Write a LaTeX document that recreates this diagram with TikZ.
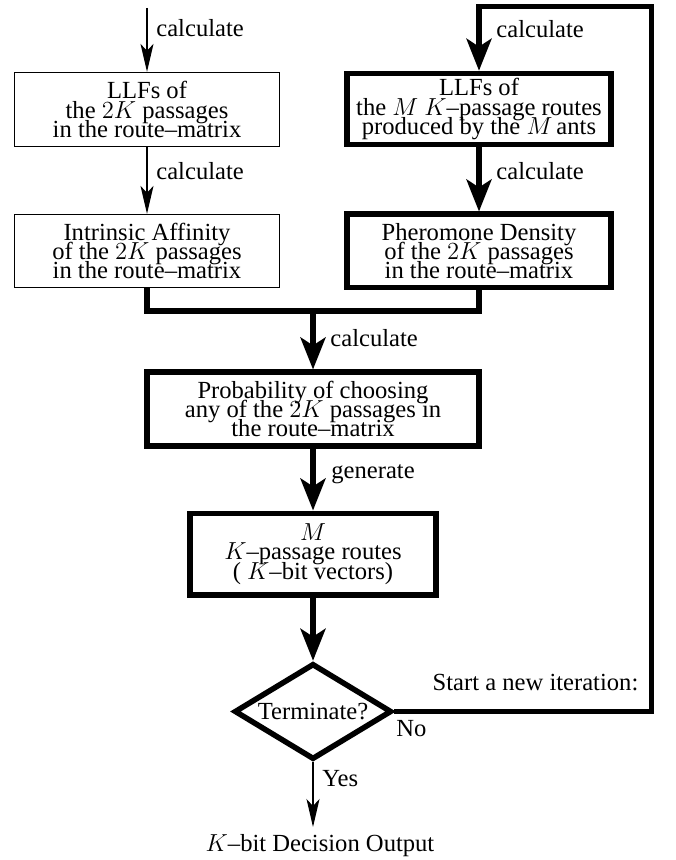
\documentclass[tikz,border=0pt]{standalone}
\usepackage{fix-cm}
\usepackage[no-math]{fontspec}
\setmainfont{Liberation Serif}
\usetikzlibrary{arrows.meta,shapes.geometric}
\tikzset{
  txt/.style={font=\fontsize{12.3}{9.7}\selectfont},
  thinbox/.style={draw,line width=0.65pt,align=center,inner sep=0pt,txt,minimum width=132.5pt},
  thickbox/.style={draw,line width=2.75pt,align=center,inner sep=0pt,txt},
  thinarrow/.style={line width=0.65pt,-{Stealth[length=14pt,width=6.5pt,inset=3.5pt]}},
  thickline/.style={line width=2.75pt},
  thickarrow/.style={line width=2.75pt,-{Stealth[length=16pt,width=12.5pt,inset=4pt]}},
  lbl/.style={txt,inner sep=0pt,anchor=base west}
}
\begin{document}
\lineskiplimit=-20pt\relax
\begin{tikzpicture}[x=0.5pt,y=-0.5pt]
\useasboundingbox (0,0) rectangle (675,860);
% boxes
\node[thinbox,minimum height=37pt] (b1) at (147,109.5) {LLFs of\\the $2K$ passages\\in the route–matrix};
\node[thinbox,minimum height=36.5pt] (b2) at (147,251) {Intrinsic Affinity\\of the $2K$ passages\\in the route–matrix};
\node[thickbox,minimum width=132pt,minimum height=35.5pt] (b3) at (479,109) {LLFs of\\the $M$ $K$–passage routes\\produced by the $M$\,ants};
\node[thickbox,minimum width=132pt,minimum height=36.75pt] (b4) at (479,251) {Pheromone Density\\of the $2K$ passages\\in the route–matrix};
\node[thickbox,minimum width=165.9pt,minimum height=36.75pt] (b5) at (313,409) {Probability of choosing\\any of the $2K$ passages in\\the route–matrix};
\node[thickbox,minimum width=123pt,minimum height=40.75pt] (b6) at (313,554) {$M$\\$K$–passage routes\\( $K$–bit vectors)};
\node[draw,diamond,line width=2.75pt,inner sep=0pt,shape aspect=1.64,minimum width=78.7pt,minimum height=48pt,txt] (dia) at (313,711.5) {Terminate?};
% coordinates
\coordinate (top) at (147,8);
\coordinate (m) at (313,311);
\coordinate (c1) at (651.5,711.5);
\coordinate (c2) at (479,6.7);
\coordinate (yes) at (313,827);
% connectors
\draw[thinarrow] (top) -- (b1.north);
\draw[thinarrow] (b1.south) -- (b2.north);
\draw[thickarrow] (b3.south) -- (b4.north);
\draw[thickline] (b2.south) -- (b2.south |- m) -- (b4.south |- m) -- (b4.south);
\draw[thickarrow] (m) -- (b5.north);
\draw[thickarrow] (b5.south) -- (b6.north);
\draw[thickarrow] (b6.south) -- (dia.north);
\draw[thickarrow] (dia.east) -- (c1) |- (c2) -- (b3.north);
\draw[thinarrow] (dia.south) -- (yes);
% labels
\node[lbl] (l1) at (156,37) {calculate};
\node[lbl] (l2) at (156,180) {calculate};
\node[lbl] (l3) at (496,38) {calculate};
\node[lbl] (l4) at (496,180) {calculate};
\node[lbl] (l5) at (330,346.5) {calculate};
\node[lbl] (l6) at (331,478) {generate};
\node[lbl] (l7) at (432.3,690) {Start a new iteration:};
\node[lbl] (l8) at (396,736.5) {No};
\node[lbl] (l9) at (322,786.5) {Yes};
\node[txt,inner sep=0pt,anchor=base] (out) at (320,851.7) {$K$–bit Decision Output};
\end{tikzpicture}
\end{document}
